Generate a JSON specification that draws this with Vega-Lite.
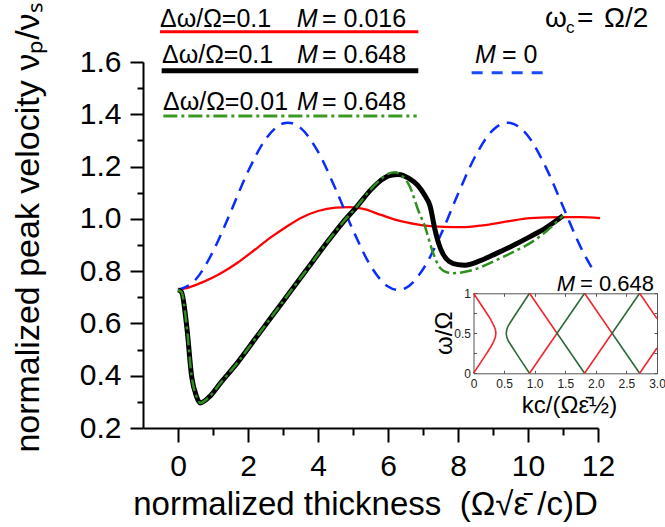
{
  "$schema": "https://vega.github.io/schema/vega-lite/v6.json",
  "width": 455,
  "height": 366,
  "autosize": {"type": "none"},
  "padding": {"left": 143, "top": 62, "right": 67, "bottom": 99},
  "background": "white",
  "config": {
    "view": {"stroke": null},
    "font": "Liberation Sans",
    "axis": {"grid": false, "labelFont": "Liberation Sans", "titleFont": "Liberation Sans", "labelColor": "black", "titleColor": "black", "titleFontWeight": "normal", "domainColor": "black", "tickColor": "black"},
    "text": {"font": "Liberation Sans", "color": "black"}
  },
  "datasets": {
    "curves": [
      {"s":"red","x":0,"y":0.728},{"s":"red","x":0.34,"y":0.739},{"s":"red","x":0.71,"y":0.758},{"s":"red","x":1.2,"y":0.79},{"s":"red","x":1.69,"y":0.831},{"s":"red","x":2.1,"y":0.872},{"s":"red","x":2.63,"y":0.927},{"s":"red","x":3.1,"y":0.97},{"s":"red","x":3.57,"y":1.007},{"s":"red","x":4.0,"y":1.03},{"s":"red","x":4.5,"y":1.043},{"s":"red","x":4.9,"y":1.045},{"s":"red","x":5.3,"y":1.038},{"s":"red","x":5.8,"y":1.015},{"s":"red","x":6.4,"y":0.99},{"s":"red","x":7.0,"y":0.975},{"s":"red","x":7.6,"y":0.969},{"s":"red","x":8.1,"y":0.968},{"s":"red","x":8.7,"y":0.975},{"s":"red","x":9.4,"y":0.99},{"s":"red","x":10.06,"y":1.003},{"s":"red","x":11.0,"y":1.007},{"s":"red","x":11.5,"y":1.007},{"s":"red","x":12.06,"y":1.003},
      {"s":"blue","x":0,"y":0.728},{"s":"blue","x":0.5,"y":0.767},{"s":"blue","x":1,"y":0.875},{"s":"blue","x":1.5,"y":1.025},{"s":"blue","x":2,"y":1.181},{"s":"blue","x":2.5,"y":1.304},{"s":"blue","x":3,"y":1.365},{"s":"blue","x":3.14,"y":1.368},{"s":"blue","x":3.5,"y":1.348},{"s":"blue","x":4,"y":1.257},{"s":"blue","x":4.5,"y":1.115},{"s":"blue","x":5,"y":0.957},{"s":"blue","x":5.5,"y":0.821},{"s":"blue","x":6,"y":0.741},{"s":"blue","x":6.28,"y":0.728},{"s":"blue","x":6.5,"y":0.735},{"s":"blue","x":7,"y":0.807},{"s":"blue","x":7.5,"y":0.937},{"s":"blue","x":8,"y":1.095},{"s":"blue","x":8.5,"y":1.241},{"s":"blue","x":9,"y":1.34},{"s":"blue","x":9.42,"y":1.368},{"s":"blue","x":9.5,"y":1.367},{"s":"blue","x":10,"y":1.317},{"s":"blue","x":10.5,"y":1.2},{"s":"blue","x":11,"y":1.047},{"s":"blue","x":11.5,"y":0.893},{"s":"blue","x":11.86,"y":0.804},
      {"s":"black","x":0,"y":0.728},{"s":"black","x":0.1,"y":0.72},{"s":"black","x":0.25,"y":0.588},{"s":"black","x":0.39,"y":0.397},{"s":"black","x":0.53,"y":0.32},{"s":"black","x":0.63,"y":0.296},{"s":"black","x":0.9,"y":0.32},{"s":"black","x":1.2,"y":0.37},{"s":"black","x":1.7,"y":0.45},{"s":"black","x":2.2,"y":0.54},{"s":"black","x":2.7,"y":0.63},{"s":"black","x":3.2,"y":0.72},{"s":"black","x":3.7,"y":0.81},{"s":"black","x":4.2,"y":0.9},{"s":"black","x":4.7,"y":0.985},{"s":"black","x":5.11,"y":1.047},{"s":"black","x":5.5,"y":1.11},{"s":"black","x":5.8,"y":1.148},{"s":"black","x":6.05,"y":1.166},{"s":"black","x":6.3,"y":1.17},{"s":"black","x":6.6,"y":1.155},{"s":"black","x":6.85,"y":1.128},{"s":"black","x":7.05,"y":1.09},{"s":"black","x":7.2,"y":1.05},{"s":"black","x":7.34,"y":0.96},{"s":"black","x":7.45,"y":0.905},{"s":"black","x":7.57,"y":0.866},{"s":"black","x":7.75,"y":0.837},{"s":"black","x":8.0,"y":0.825},{"s":"black","x":8.2,"y":0.823},{"s":"black","x":8.6,"y":0.838},{"s":"black","x":9.1,"y":0.868},{"s":"black","x":9.6,"y":0.9},{"s":"black","x":10.06,"y":0.932},{"s":"black","x":10.5,"y":0.965},{"s":"black","x":11.0,"y":1.012},
      {"s":"green","x":0,"y":0.728},{"s":"green","x":0.1,"y":0.72},{"s":"green","x":0.25,"y":0.588},{"s":"green","x":0.39,"y":0.397},{"s":"green","x":0.53,"y":0.32},{"s":"green","x":0.63,"y":0.296},{"s":"green","x":0.9,"y":0.32},{"s":"green","x":1.2,"y":0.37},{"s":"green","x":1.7,"y":0.45},{"s":"green","x":2.2,"y":0.54},{"s":"green","x":2.7,"y":0.63},{"s":"green","x":3.2,"y":0.72},{"s":"green","x":3.7,"y":0.81},{"s":"green","x":4.2,"y":0.9},{"s":"green","x":4.7,"y":0.985},{"s":"green","x":5.11,"y":1.047},{"s":"green","x":5.5,"y":1.112},{"s":"green","x":5.8,"y":1.152},{"s":"green","x":6.0,"y":1.172},{"s":"green","x":6.2,"y":1.178},{"s":"green","x":6.4,"y":1.165},{"s":"green","x":6.63,"y":1.122},{"s":"green","x":6.86,"y":1.034},{"s":"green","x":7.06,"y":0.969},{"s":"green","x":7.26,"y":0.881},{"s":"green","x":7.49,"y":0.812},{"s":"green","x":7.7,"y":0.795},{"s":"green","x":7.86,"y":0.792},{"s":"green","x":8.1,"y":0.795},{"s":"green","x":8.43,"y":0.805},{"s":"green","x":9.11,"y":0.843},{"s":"green","x":9.6,"y":0.875},{"s":"green","x":10.06,"y":0.907},{"s":"green","x":10.5,"y":0.95},{"s":"green","x":11.0,"y":1.012}
    ],
    "legendLines": [
      {"s":"red","x":-0.514,"x2":6.866,"y":1.716},
      {"s":"black","x":-0.467,"x2":6.866,"y":1.567},
      {"s":"green","x":-0.419,"x2":6.82,"y":1.393},
      {"s":"blue","x":8.39,"x2":10.486,"y":1.559}
    ],
    "labels": [
      {"kind":"leg","x":-0.514,"y":1.735,"text":"Δω/Ω=0.1"},
      {"kind":"leg","x":4.114,"y":1.735,"text":"= 0.016"},
      {"kind":"leg","x":-0.457,"y":1.595,"text":"Δω/Ω=0.1"},
      {"kind":"leg","x":4.114,"y":1.595,"text":"= 0.648"},
      {"kind":"leg","x":-0.429,"y":1.416,"text":"Δω/Ω=0.01"},
      {"kind":"leg","x":4.114,"y":1.416,"text":"= 0.648"},
      {"kind":"leg","x":9.257,"y":1.595,"text":"= 0"},
      {"kind":"legM","x":3.391,"y":1.735,"text":"M"},
      {"kind":"legM","x":3.4,"y":1.595,"text":"M"},
      {"kind":"legM","x":3.4,"y":1.416,"text":"M"},
      {"kind":"legM","x":8.486,"y":1.595,"text":"M"},
      {"kind":"wc","x":10.486,"y":1.735,"text":"ω"},
      {"kind":"wc","x":11.4,"y":1.735,"text":"="},
      {"kind":"wc","x":12.17,"y":1.735,"text":"Ω/2"},
      {"kind":"wcsub","x":11.086,"y":1.712,"text":"c"}
    ],
    "inset": [
      {"seg":"A","c":"r","i":0,"k":0,"w":1},{"seg":"A","c":"r","i":1,"k":0.1,"w":0.885},{"seg":"A","c":"r","i":2,"k":0.2,"w":0.77},{"seg":"A","c":"r","i":3,"k":0.28,"w":0.675},{"seg":"A","c":"r","i":4,"k":0.33,"w":0.6},{"seg":"A","c":"r","i":5,"k":0.357,"w":0.55},{"seg":"A","c":"r","i":6,"k":0.366,"w":0.5},{"seg":"A","c":"r","i":7,"k":0.357,"w":0.45},{"seg":"A","c":"r","i":8,"k":0.33,"w":0.4},{"seg":"A","c":"r","i":9,"k":0.28,"w":0.325},{"seg":"A","c":"r","i":10,"k":0.2,"w":0.23},{"seg":"A","c":"r","i":11,"k":0.1,"w":0.115},{"seg":"A","c":"r","i":12,"k":0,"w":0},
      {"seg":"B","c":"g","i":0,"k":0.916,"w":1},{"seg":"B","c":"g","i":1,"k":0.816,"w":0.885},{"seg":"B","c":"g","i":2,"k":0.716,"w":0.77},{"seg":"B","c":"g","i":3,"k":0.636,"w":0.675},{"seg":"B","c":"g","i":4,"k":0.572,"w":0.6},{"seg":"B","c":"g","i":5,"k":0.545,"w":0.55},{"seg":"B","c":"g","i":6,"k":0.535,"w":0.5},{"seg":"B","c":"g","i":7,"k":0.545,"w":0.45},{"seg":"B","c":"g","i":8,"k":0.572,"w":0.4},{"seg":"B","c":"g","i":9,"k":0.636,"w":0.325},{"seg":"B","c":"g","i":10,"k":0.716,"w":0.23},{"seg":"B","c":"g","i":11,"k":0.816,"w":0.115},{"seg":"B","c":"g","i":12,"k":0.916,"w":0},
      {"seg":"C","c":"r","i":0,"k":0.916,"w":1},{"seg":"C","c":"r","i":1,"k":1.366,"w":0.5},{"seg":"C","c":"r","i":2,"k":0.916,"w":0},
      {"seg":"D","c":"g","i":0,"k":1.816,"w":1},{"seg":"D","c":"g","i":1,"k":1.366,"w":0.5},{"seg":"D","c":"g","i":2,"k":1.816,"w":0},
      {"seg":"E","c":"r","i":0,"k":1.816,"w":1},{"seg":"E","c":"r","i":1,"k":2.266,"w":0.5},{"seg":"E","c":"r","i":2,"k":1.816,"w":0},
      {"seg":"F","c":"g","i":0,"k":2.716,"w":1},{"seg":"F","c":"g","i":1,"k":2.266,"w":0.5},{"seg":"F","c":"g","i":2,"k":2.716,"w":0},
      {"seg":"G","c":"r","i":0,"k":2.716,"w":1},{"seg":"G","c":"r","i":1,"k":3.0,"w":0.684},
      {"seg":"H","c":"r","i":0,"k":2.716,"w":0},{"seg":"H","c":"r","i":1,"k":3.0,"w":0.316}
    ],
    "insetText": [
      {"kind":"ylab","k":-0.466,"w":0.5,"text":"ω/Ω"},
      {"kind":"xlab","k":0.79,"w":-0.496,"text":"kc/(Ωε̄½)"},
      {"kind":"M","k":1.36,"w":1.0325,"text":"M"},
      {"kind":"val","k":1.741,"w":1.0325,"text":"= 0.648"}
    ]
  },
  "layer": [
    {
      "encoding": {
        "x": {"field": "x", "type": "quantitative", "scale": {"domain": [-1, 12], "nice": false, "zero": false},
          "axis": {"orient": "bottom", "values": [0,1,2,3,4,5,6,7,8,9,10,11,12],
            "labelExpr": "datum.value % 2 === 0 ? datum.label : ''",
            "tickSize": {"condition": {"test": "datum.value % 2 === 0", "value": 14}, "value": 7},
            "tickWidth": 2, "domainWidth": 2, "labelFontSize": 30, "labelPadding": 9, "labelFlush": false, "labelOverlap": false,
            "title": "normalized thickness\u00a0\u00a0(Ω√\u03b5\u0304 /c)D", "titleFontSize": 33,
            "titleX": 222, "titleY": 86, "titleBaseline": "alphabetic", "titleAlign": "center"}},
        "y": {"field": "y", "type": "quantitative", "scale": {"domain": [0.2, 1.6], "nice": false, "zero": false},
          "axis": {"orient": "left", "values": [0.2,0.3,0.4,0.5,0.6,0.7,0.8,0.9,1.0,1.1,1.2,1.3,1.4,1.5,1.6],
            "labelExpr": "round(datum.value*10) % 2 === 0 ? format(datum.value, '.1f') : ''",
            "tickSize": {"condition": {"test": "round(datum.value*10) % 2 === 0", "value": 13}, "value": 6},
            "tickWidth": 2, "domainWidth": 2, "labelFontSize": 30, "labelPadding": 9, "labelFlush": false, "labelOverlap": false,
            "title": "normalized peak velocity νₚ/νₛ", "titleFontSize": 34, "titleAngle": 270,
            "titleX": -105, "titleY": 165, "titleBaseline": "alphabetic", "titleAlign": "center"}}
      },
      "layer": [
        {"data": {"name": "curves"}, "transform": [{"filter": "datum.s === 'red'"}], "mark": {"type": "line", "color": "#ff0000", "strokeWidth": 2.3, "interpolate": "monotone"}},
        {"data": {"name": "curves"}, "transform": [{"filter": "datum.s === 'blue'"}], "mark": {"type": "line", "color": "#0a2cff", "strokeWidth": 2.5, "strokeDash": [12, 8], "interpolate": "monotone"}},
        {"data": {"name": "curves"}, "transform": [{"filter": "datum.s === 'black'"}], "mark": {"type": "line", "color": "#000000", "strokeWidth": 5, "interpolate": "monotone"}},
        {"data": {"name": "curves"}, "transform": [{"filter": "datum.s === 'green'"}], "mark": {"type": "line", "color": "#2e8f1e", "strokeWidth": 2.5, "strokeDash": [12, 4, 3, 4], "interpolate": "monotone"}},
        {"data": {"name": "legendLines"}, "transform": [{"filter": "datum.s === 'red'"}], "mark": {"type": "rule", "color": "#ff0000", "strokeWidth": 3}, "encoding": {"x2": {"field": "x2"}}},
        {"data": {"name": "legendLines"}, "transform": [{"filter": "datum.s === 'black'"}], "mark": {"type": "rule", "color": "#000000", "strokeWidth": 5}, "encoding": {"x2": {"field": "x2"}}},
        {"data": {"name": "legendLines"}, "transform": [{"filter": "datum.s === 'green'"}], "mark": {"type": "rule", "color": "#3c9a22", "strokeWidth": 3, "strokeDash": [14, 4, 3, 4]}, "encoding": {"x2": {"field": "x2"}}},
        {"data": {"name": "legendLines"}, "transform": [{"filter": "datum.s === 'blue'"}], "mark": {"type": "rule", "color": "#1a4cff", "strokeWidth": 3, "strokeDash": [11, 9]}, "encoding": {"x2": {"field": "x2"}}},
        {"data": {"name": "labels"}, "transform": [{"filter": "datum.kind === 'leg'"}], "mark": {"type": "text", "align": "left", "baseline": "alphabetic", "fontSize": 25}, "encoding": {"text": {"field": "text"}}},
        {"data": {"name": "labels"}, "transform": [{"filter": "datum.kind === 'legM'"}], "mark": {"type": "text", "align": "left", "baseline": "alphabetic", "fontSize": 25, "fontStyle": "italic"}, "encoding": {"text": {"field": "text"}}},
        {"data": {"name": "labels"}, "transform": [{"filter": "datum.kind === 'wc'"}], "mark": {"type": "text", "align": "left", "baseline": "alphabetic", "fontSize": 28}, "encoding": {"text": {"field": "text"}}},
        {"data": {"name": "labels"}, "transform": [{"filter": "datum.kind === 'wcsub'"}], "mark": {"type": "text", "align": "left", "baseline": "alphabetic", "fontSize": 17}, "encoding": {"text": {"field": "text"}}}
      ]
    },
    {
      "layer": [
        {
          "data": {"name": "inset"},
          "mark": {"type": "line", "strokeWidth": 1.6},
          "encoding": {
            "x": {"field": "k", "type": "quantitative", "scale": {"domain": [0, 3], "range": [330.5, 514], "nice": false, "zero": false},
              "axis": {"orient": "bottom", "offset": -54.7, "values": [0,0.5,1,1.5,2,2.5,3],
                "labelExpr": "datum.value === 0 ? '0' : format(datum.value, '.1f')",
                "tickSize": -3, "tickWidth": 1, "domainWidth": 1, "domainColor": "#555555", "tickColor": "#555555",
                "labelFontSize": 12, "labelColor": "#222222", "labelPadding": 8, "labelFlush": false, "labelOverlap": false, "title": null}},
            "y": {"field": "w", "type": "quantitative", "scale": {"domain": [0, 1], "range": [311.3, 231.3], "nice": false, "zero": false},
              "axis": {"orient": "left", "offset": -330.5, "values": [0,0.25,0.5,0.75,1],
                "labelExpr": "datum.value === 1 ? '1' : datum.value === 0.5 ? '0.5' : datum.value === 0 ? '0' : ''",
                "tickSize": -3, "tickWidth": 1, "domainWidth": 1, "domainColor": "#555555", "tickColor": "#555555",
                "labelFontSize": 12, "labelColor": "#222222", "labelPadding": 6, "labelFlush": false, "labelOverlap": false, "title": null}},
            "color": {"field": "c", "type": "nominal", "scale": {"domain": ["r", "g"], "range": ["#f2262c", "#2b6b3a"]}, "legend": null},
            "detail": {"field": "seg"},
            "order": {"field": "i"}
          }
        },
        {
          "data": {"name": "insetText"},
          "transform": [{"filter": "datum.kind === 'ylab'"}],
          "mark": {"type": "text", "angle": 270, "align": "center", "baseline": "middle", "fontSize": 24},
          "encoding": {
            "x": {"field": "k", "type": "quantitative",
              "axis": {"orient": "top", "offset": -231.3, "values": [0,0.5,1,1.5,2,2.5,3], "labels": false,
                "tickSize": -3, "tickWidth": 1, "domainWidth": 1, "domainColor": "#555555", "tickColor": "#555555", "title": null}},
            "y": {"field": "w", "type": "quantitative",
              "axis": {"orient": "right", "offset": 59, "values": [0,0.25,0.5,0.75,1], "labels": false,
                "tickSize": -3, "tickWidth": 1, "domainWidth": 1, "domainColor": "#555555", "tickColor": "#555555", "title": null}},
            "text": {"field": "text"}
          }
        },
        {
          "data": {"name": "insetText"},
          "transform": [{"filter": "datum.kind === 'xlab'"}],
          "mark": {"type": "text", "align": "left", "baseline": "alphabetic", "fontSize": 24},
          "encoding": {"x": {"field": "k", "type": "quantitative", "axis": null}, "y": {"field": "w", "type": "quantitative", "axis": null}, "text": {"field": "text"}}
        },
        {
          "data": {"name": "insetText"},
          "transform": [{"filter": "datum.kind === 'M'"}],
          "mark": {"type": "text", "align": "left", "baseline": "alphabetic", "fontSize": 22, "fontStyle": "italic"},
          "encoding": {"x": {"field": "k", "type": "quantitative", "axis": null}, "y": {"field": "w", "type": "quantitative", "axis": null}, "text": {"field": "text"}}
        },
        {
          "data": {"name": "insetText"},
          "transform": [{"filter": "datum.kind === 'val'"}],
          "mark": {"type": "text", "align": "left", "baseline": "alphabetic", "fontSize": 22},
          "encoding": {"x": {"field": "k", "type": "quantitative", "axis": null}, "y": {"field": "w", "type": "quantitative", "axis": null}, "text": {"field": "text"}}
        }
      ],
      "resolve": {"axis": {"x": "independent", "y": "independent"}}
    }
  ],
  "resolve": {"scale": {"x": "independent", "y": "independent", "color": "independent"}, "axis": {"x": "independent", "y": "independent"}}
}
